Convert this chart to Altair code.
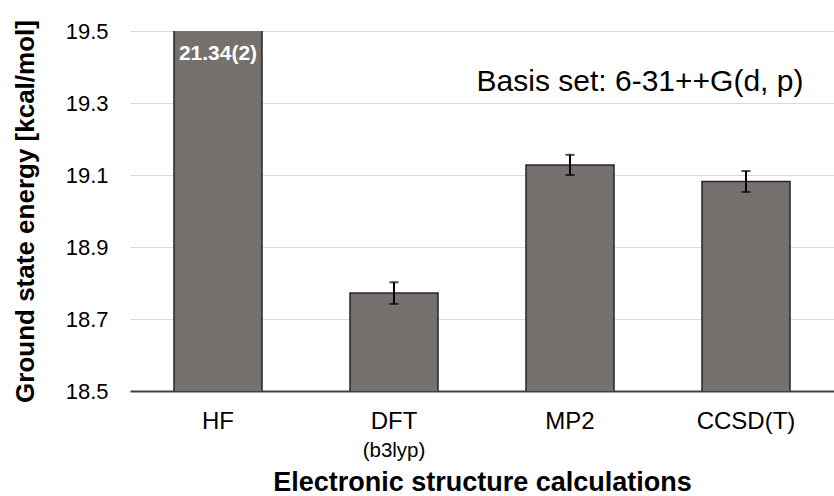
import altair as alt
import pandas as pd

# Ground state energies by method (kcal/mol), with statistical uncertainty
methods = ["HF", "DFT", "MP2", "CCSD(T)"]
sublabels = ["", "(b3lyp)", "", ""]
energies = [21.34, 18.772, 19.128, 19.082]
errors = [0.02, 0.03, 0.028, 0.029]
value_labels = ["21.34(2)", "", "", ""]

df = pd.DataFrame({
    "method": methods,
    "sub": sublabels,
    "energy": energies,
    "err": errors,
    "label": value_labels,
})
df["lo"] = df["energy"] - df["err"]
df["hi"] = df["energy"] + df["err"]

FONT = "Liberation Sans"
W, H = 704, 360

x = alt.X(
    "method:N",
    sort=methods,
    scale=alt.Scale(paddingInner=0.5, paddingOuter=0.25),
    axis=alt.Axis(
        title="Electronic structure calculations",
        titleFont=FONT, titleFontSize=27, titleFontWeight="bold", titleColor="#000000",
        titleBaseline="alphabetic", titleY=99,
        labelFont=FONT, labelFontSize=24, labelColor="#000000", labelAngle=0,
        labelPadding=18,
        domainColor="#404040", domainWidth=2, ticks=False, grid=False,
    ),
)
yscale = alt.Scale(domain=[18.5, 19.5], nice=False, zero=False)

bars = alt.Chart(df).mark_bar(
    clip=True, color="#75716f", stroke="#262626", strokeWidth=1.5
).encode(
    x=x,
    y=alt.Y(
        "energy:Q",
        scale=yscale,
        axis=alt.Axis(
            values=[18.5, 18.7, 18.9, 19.1, 19.3, 19.5], format=".1f",
            title="Ground state energy [kcal/mol]",
            titleFont=FONT, titleFontSize=26, titleFontWeight="bold", titleColor="#000000",
            titleBaseline="alphabetic", titleAngle=270, titleX=-97,
            labelFont=FONT, labelFontSize=22, labelColor="#000000", labelPadding=22,
            domain=False, ticks=False, gridColor="#d9d9d9", gridWidth=1.2,
        ),
    ),
)

err_rule = alt.Chart(df).mark_rule(clip=True, color="#000000", strokeWidth=2).encode(
    x=alt.X("method:N", sort=methods),
    y=alt.Y("lo:Q", scale=yscale),
    y2="hi:Q",
)
err_lo = alt.Chart(df).mark_tick(clip=True, color="#000000", thickness=2, size=9).encode(
    x=alt.X("method:N", sort=methods),
    y=alt.Y("lo:Q", scale=yscale),
)
err_hi = alt.Chart(df).mark_tick(clip=True, color="#000000", thickness=2, size=9).encode(
    x=alt.X("method:N", sort=methods),
    y=alt.Y("hi:Q", scale=yscale),
)

value_text = alt.Chart(df).mark_text(
    font=FONT, fontSize=21, fontWeight="bold", color="#ffffff", baseline="alphabetic"
).encode(
    x=alt.X("method:N", sort=methods),
    y=alt.value(29),
    text="label:N",
)

sub_text = alt.Chart(df).mark_text(
    font=FONT, fontSize=20.5, color="#000000", baseline="alphabetic"
).encode(
    x=alt.X("method:N", sort=methods),
    y=alt.value(H + 66),
    text="sub:N",
)

basis = alt.Chart(pd.DataFrame({"t": ["Basis set: 6-31++G(d, p)"]})).mark_text(
    font=FONT, fontSize=30, color="#000000", baseline="alphabetic", align="center"
).encode(
    x=alt.value(510),
    y=alt.value(60),
    text="t:N",
)

chart = (
    alt.layer(bars, err_rule, err_lo, err_hi, value_text, sub_text, basis)
    .properties(
        width=W, height=H,
        autosize=alt.AutoSizeParams(type="none"),
        padding={"left": 130, "top": 31, "right": 0, "bottom": 105},
        background="#ffffff",
    )
    .configure_view(stroke=None)
)

chart.save("out.html", embed_options={"renderer": "svg", "actions": False})
